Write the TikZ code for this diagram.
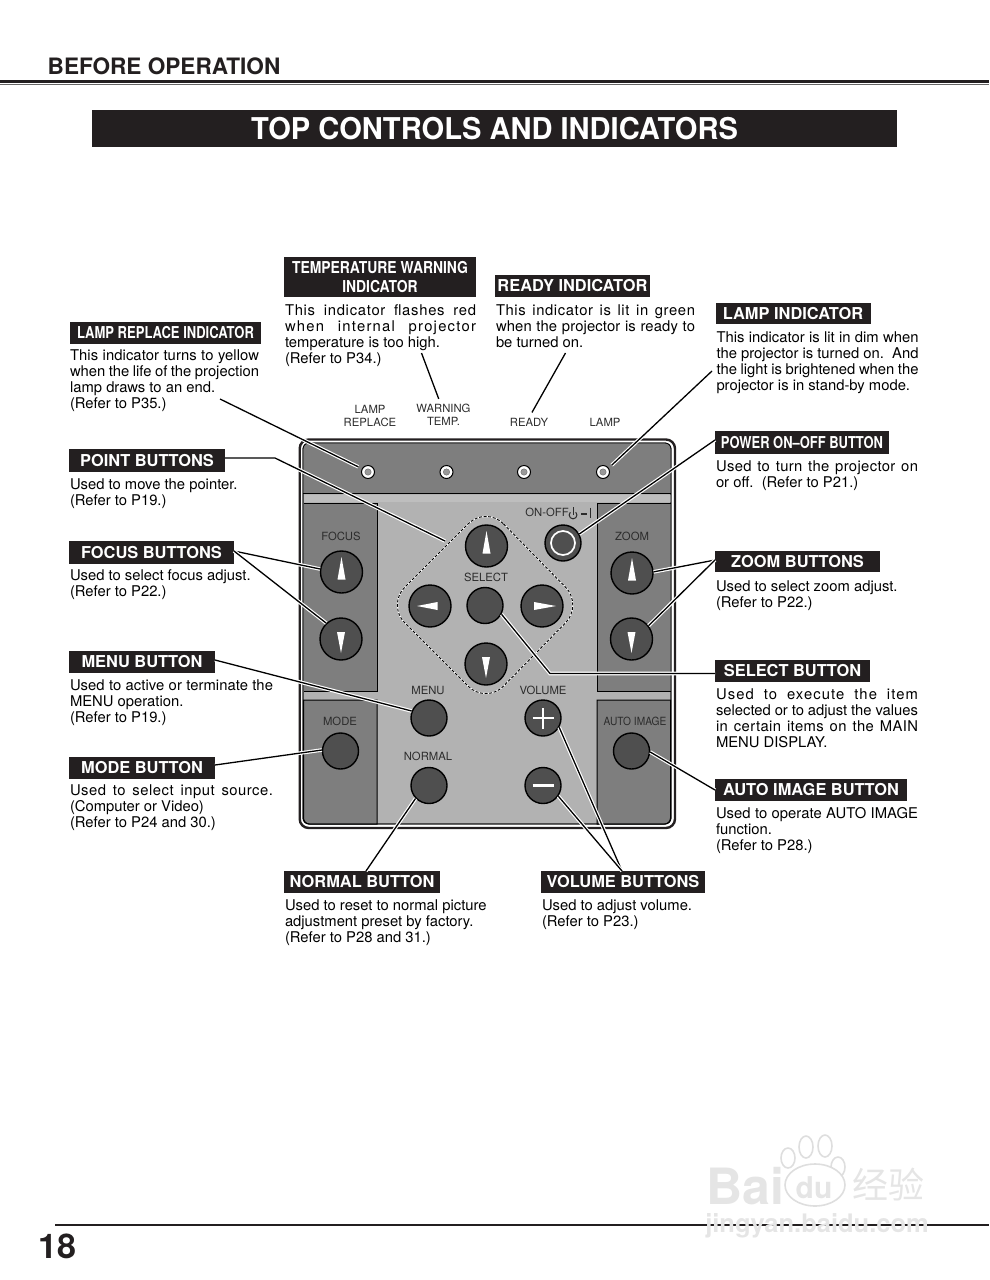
\documentclass[tikz,border=0pt]{standalone}
\usepackage{fontspec}
\setmainfont{TeX Gyre Heros}
\newfontfamily\cjkfont{Noto Sans CJK SC}
\usetikzlibrary{positioning}
\definecolor{inkblack}{HTML}{231F20}
\definecolor{bandgray}{HTML}{7E7E7E}
\definecolor{basegray}{HTML}{B2B2B2}
\definecolor{stripgray}{HTML}{BEBEBE}
\definecolor{knobgray}{HTML}{4F4F4F}
\definecolor{captgray}{HTML}{2C2C2C}
% one line of body text stretched to a width: width, text
\newlength{\naturalwd}
\newcommand{\wideline}[2]{\settowidth{\naturalwd}{#2}%
    \pgfmathsetmacro{\spreadval}{max(0,30*(#1/\naturalwd-1))}%
    \edef\spreadfont{\noexpand\addfontfeature{LetterSpace=\spreadval}}%
    \makebox[#1pt][s]{\spreadfont #2}}
\newcommand{\narrow}[2]{\scalebox{#1}[1]{#2}}

\begin{document}
\begin{tikzpicture}[
    x=1pt, y=-1pt,
    tagbox/.style={fill=inkblack, text=white, inner sep=0pt, align=center, minimum height=22pt,
        font=\fontsize{16.4}{19.5}\selectfont\bfseries},
    bodytext/.style={inner sep=0pt, align=left, anchor=north west, font=\fontsize{14.8}{16}\selectfont},
    caption/.style={inner sep=0pt, align=center, text=captgray, font=\fontsize{11.3}{13}\selectfont},
    bigknob/.style={circle, draw=black, line width=1.4pt, fill=knobgray, minimum size=42pt, inner sep=0pt},
    knob/.style={circle, draw=black, line width=1.4pt, fill=knobgray, minimum size=36pt, inner sep=0pt},
    led/.style={circle, draw=black, line width=1pt, fill=white, minimum size=13pt, inner sep=0pt},
    leader/.style={draw=black, line width=1.3pt, preaction={draw=white, line width=3.6pt}},
    wmark/.style={inner sep=0pt, text=black!10},
    paw/.style={draw=black!13, line width=1.6pt, fill=white}
]

\useasboundingbox (0,0) rectangle (989,1280);

% Header
\node[anchor=base west, inner sep=0pt, text=inkblack, font=\fontsize{22.6}{26}\selectfont\bfseries] (page_head) at (47.5,74) {BEFORE OPERATION};
\fill[inkblack] (0,79.5) rectangle (989,82.7);
\fill[black!60] (0,83.5) rectangle (989,85);
\node[fill=inkblack, text=white, minimum width=805pt, minimum height=37pt, inner sep=0pt, font=\fontsize{30}{34}\selectfont\bfseries] (page_title) at (494.5,128.5) {\narrow{.97}{TOP CONTROLS AND INDICATORS}};

% Panel frame
\draw[inkblack, line width=2.4pt, rounded corners=9pt] (299.7,439.5) rectangle (675,828);
\draw[black, line width=.8pt, fill=basegray, rounded corners=6pt] (303,443) rectangle (671,824);
\fill[bandgray] (303,493) [rounded corners=6pt] -- (303,443) -- (671,443) [sharp corners] -- (671,493) -- cycle;
\draw[black, line width=1pt] (303,493.5) -- (671,493.5);
\fill[stripgray] (303.5,495) rectangle (670.5,502);

% Side panels
\draw[black, line width=1pt, fill=bandgray] (303.5,503) -- (377,503) -- (377,691) -- (303.5,691);
\draw[black, line width=1pt, fill=bandgray] (670.5,503) -- (597,503) -- (597,691) -- (670.5,691);
\draw[black, line width=1pt, fill=bandgray] (377,824) -- (377,700) -- (303.5,700) [rounded corners=6pt] -- (303.5,824) [sharp corners] -- cycle;
\draw[black, line width=1pt, fill=bandgray] (597,824) -- (597,700) -- (670.5,700) [rounded corners=6pt] -- (670.5,824) [sharp corners] -- cycle;
\draw[black, line width=.8pt, rounded corners=6pt] (303,443) rectangle (671,824);

% Dashed field round the select buttons
\draw[white, line width=1.4pt, rounded corners=25pt] (486,506) -- (583,605) -- (486,704) -- (387,605) -- cycle;
\draw[black, line width=.9pt, dash pattern=on 3pt off 1.6pt, rounded corners=25pt] (486,506) -- (583,605) -- (486,704) -- (387,605) -- cycle;

% Lamps
\node[led] (led_replace) at (368,472) {};
\node[led] (led_temp) at (446.5,472) {};
\node[led] (led_ready) at (524,472) {};
\node[led] (led_lamp) at (603,472) {};
\foreach \lednode in {led_replace, led_temp, led_ready, led_lamp}
    \filldraw[fill=black!40, draw=black!60, line width=.4pt] (\lednode) circle (3.2pt);

% Buttons
\node[bigknob] (focus_up) at (341.5,572) {};
\node[bigknob] (focus_down) at (341,639) {};
\node[bigknob] (zoom_up) at (632,573) {};
\node[bigknob] (zoom_down) at (631.5,639) {};
\node[bigknob] (select_up) at (486.5,546) {};
\node[bigknob] (select_left) at (430,606) {};
\node[knob] (select_mid) at (485,605.5) {};
\node[bigknob] (select_right) at (542,606) {};
\node[bigknob] (select_down) at (486,664) {};
\node[knob] (power_knob) at (563,543) {};
\node[knob] (menu_knob) at (429,718) {};
\node[knob] (volume_plus) at (543,718) {};
\node[knob] (volume_minus) at (543,785.5) {};
\node[knob] (normal_knob) at (429,785.5) {};
\node[knob] (mode_knob) at (340.5,751) {};
\node[knob] (auto_knob) at (631.5,751) {};

% Button signs
\foreach \upknob in {focus_up, zoom_up, select_up}
    \fill[white] ([shift={(0,-15)}]\upknob.center) -- ([shift={(4,7.5)}]\upknob.center) -- ([shift={(-4,7.5)}]\upknob.center) -- cycle;
\foreach \downknob in {focus_down, zoom_down, select_down}
    \fill[white] ([shift={(0,14)}]\downknob.center) -- ([shift={(4,-7)}]\downknob.center) -- ([shift={(-4,-7)}]\downknob.center) -- cycle;
\fill[white] ([shift={(-13,0)}]select_left.center) -- ([shift={(7.5,4)}]select_left.center) -- ([shift={(7.5,-4)}]select_left.center) -- cycle;
\fill[white] ([shift={(14,0)}]select_right.center) -- ([shift={(-8,4)}]select_right.center) -- ([shift={(-8,-4)}]select_right.center) -- cycle;
\draw[white, line width=1.7pt] (power_knob) circle (12pt);
\draw[white, line width=2.2pt] ([xshift=-10.5pt]volume_plus.center) -- ([xshift=10.5pt]volume_plus.center);
\draw[white, line width=2.2pt] ([yshift=-10.5pt]volume_plus.center) -- ([yshift=10.5pt]volume_plus.center);
\draw[white, line width=2.2pt] ([xshift=-10.5pt]volume_minus.center) -- ([xshift=10.5pt]volume_minus.center);

% Panel captions
\node[caption] (cap_replace) at (370,415.5) {LAMP\\REPLACE};
\node[caption] (cap_temp) at (443.5,414.5) {WARNING\\TEMP.};
\node[caption] (cap_ready) at (529,422) {READY};
\node[caption] (cap_lamp) at (605,422) {LAMP};
\node[caption] (cap_onoff) at (547,512) {ON-OFF};
\node[caption] (cap_focus) at (341,536) {FOCUS};
\node[caption] (cap_zoom) at (632,536) {ZOOM};
\node[caption] (cap_select) at (486,577) {SELECT};
\node[caption] (cap_menu) at (428,690) {MENU};
\node[caption] (cap_volume) at (543,690) {VOLUME};
\node[caption] (cap_mode) at (340,721) {MODE};
\node[caption] (cap_normal) at (428,756) {NORMAL};
\node[caption] (cap_auto) at (635,721) {\narrow{.9}{AUTO IMAGE}};

% Power sign beside ON-OFF
\draw[captgray, line width=1pt] (575.8,512.2) arc[start angle=45, end angle=-225, radius=3.9pt];
\draw[captgray, line width=1pt] (573,507) -- (573,515);
\draw[captgray, line width=1.2pt] (581,514) -- (587,514);
\draw[captgray, line width=1.2pt] (590.5,507.5) -- (590.5,518);

% Title tags
\node[tagbox, minimum width=192pt, minimum height=40pt] (temp_tag) at (380,277) {\narrow{.848}{TEMPERATURE WARNING}\\\narrow{.848}{INDICATOR}};
\node[tagbox, minimum width=155pt] (ready_tag) at (572.5,286) {READY INDICATOR};
\node[tagbox, minimum width=155pt, minimum height=21pt] (lamp_tag) at (793,313.5) {LAMP INDICATOR};
\node[tagbox, minimum width=191pt] (replace_tag) at (165.5,333) {\narrow{.794}{LAMP REPLACE INDICATOR}};
\node[tagbox, minimum width=156pt, minimum height=23pt] (point_tag) at (147,460.5) {POINT BUTTONS};
\node[tagbox, minimum width=165pt, minimum height=23pt] (focus_tag) at (151.5,552.5) {FOCUS BUTTONS};
\node[tagbox, minimum width=146pt] (menu_tag) at (142,662) {MENU BUTTON};
\node[tagbox, minimum width=146pt] (mode_tag) at (142,768) {MODE BUTTON};
\node[tagbox, minimum width=174pt, minimum height=23pt] (power_tag) at (802,442.5) {\narrow{.79}{POWER ON--OFF BUTTON}};
\node[tagbox, minimum width=165pt, minimum height=21pt] (zoom_tag) at (797.5,561.5) {ZOOM BUTTONS};
\node[tagbox, minimum width=155pt] (select_tag) at (792.5,671) {SELECT BUTTON};
\node[tagbox, minimum width=192pt] (auto_tag) at (811,790) {AUTO IMAGE BUTTON};
\node[tagbox, minimum width=156pt] (normal_tag) at (362,882) {NORMAL BUTTON};
\node[tagbox, minimum width=164pt] (volume_tag) at (623,882) {VOLUME BUTTONS};

% Descriptions
\node[bodytext, below=7.5pt of temp_tag.south west, anchor=north west, xshift=1pt] (temp_text) {\wideline{191}{This indicator flashes red}\\\wideline{191}{when internal projector}\\temperature is too high.\\(Refer to P34.)};
\node[bodytext, below=7.5pt of ready_tag.south west, anchor=north west, xshift=1pt] (ready_text) {\wideline{199}{This indicator is lit in green}\\\wideline{199}{when the projector is ready to}\\be turned on.};
\node[bodytext, below=7.5pt of lamp_tag.south west, anchor=north west, xshift=1pt] (lamp_text) {\wideline{202}{This indicator is lit in dim when}\\\wideline{202}{the projector is turned on.~~And}\\\wideline{202}{the light is brightened when the}\\projector is in stand-by mode.};
\node[bodytext, below=5pt of replace_tag.south west, anchor=north west] (replace_text) {\wideline{189}{This indicator turns to yellow}\\\wideline{189}{when the life of the projection}\\lamp draws to an end.\\(Refer to P35.)};
\node[bodytext, below=6pt of point_tag.south west, anchor=north west, xshift=1pt] (point_text) {Used to move the pointer.\\(Refer to P19.)};
\node[bodytext, below=5pt of focus_tag.south west, anchor=north west, xshift=1pt] (focus_text) {Used to select focus adjust.\\(Refer to P22.)};
\node[bodytext, below=6pt of menu_tag.south west, anchor=north west, xshift=1pt] (menu_text) {\wideline{203}{Used to active or terminate the}\\MENU operation.\\(Refer to P19.)};
\node[bodytext, below=5pt of mode_tag.south west, anchor=north west, xshift=1pt] (mode_text) {\wideline{203}{Used to select input source.}\\(Computer or Video)\\(Refer to P24 and 30.)};
\node[bodytext, below=6pt of power_tag.south west, anchor=north west, xshift=1pt] (power_text) {\wideline{202}{Used to turn the projector on}\\or off.~~(Refer to P21.)};
\node[bodytext, below=8pt of zoom_tag.south west, anchor=north west, xshift=1pt] (zoom_text) {Used to select zoom adjust.\\(Refer to P22.)};
\node[bodytext, below=6pt of select_tag.south west, anchor=north west, xshift=1pt] (select_text) {\wideline{202}{Used to execute the item}\\\wideline{202}{selected or to adjust the values}\\\wideline{202}{in certain items on the MAIN}\\MENU DISPLAY.};
\node[bodytext, below=6.5pt of auto_tag.south west, anchor=north west, xshift=1pt] (auto_text) {\wideline{202}{Used to operate AUTO IMAGE}\\function.\\(Refer to P28.)};
\node[bodytext, below=6pt of normal_tag.south west, anchor=north west, xshift=1pt] (normal_text) {Used to reset to normal picture\\adjustment preset by factory.\\(Refer to P28 and 31.)};
\node[bodytext, below=6pt of volume_tag.south west, anchor=north west, xshift=1pt] (volume_text) {Used to adjust volume.\\(Refer to P23.)};

% Free ends of the leaders
\coordinate (replace_start) at (220,399);
\coordinate (temp_start) at (421.5,353);
\coordinate (ready_start) at (565.5,353);
\coordinate (lamp_start) at (712,371);
\coordinate (point_bend) at (275,458);
\coordinate (point_end) at (445,541);
\coordinate (focus_start) at (234,551);
\coordinate (menu_start) at (215,660);
\coordinate (mode_start) at (215,765);
\coordinate (power_start) at (715,440);
\coordinate (zoom_start) at (715,560);
\coordinate (select_start) at (715,673.5);
\coordinate (select_bend) at (550,673.5);
\coordinate (auto_start) at (715,790);
\coordinate (normal_start) at (366,871);
\coordinate (volume_start) at (622,871);

% Leaders
\draw[leader, shorten >=4pt] (replace_start) -- (led_replace.151);
\draw[leader, shorten >=5pt] (temp_start) -- ([xshift=-3pt]cap_temp.north);
\draw[leader, shorten >=6pt] (ready_start) -- (cap_ready.north);
\draw[leader, shorten >=4pt] (lamp_start) -- (led_lamp.35);
\draw[leader] (point_tag.east |- point_bend) -- (point_bend) -- (point_end);
\draw[leader] (focus_start) -- (focus_up.172);
\draw[leader] (focus_start) -- (focus_down.133);
\draw[leader] (menu_start) -- (menu_knob.158);
\draw[leader] (mode_start) -- (mode_knob.177);
\draw[leader] (power_start) -- (power_knob.29);
\draw[leader] (zoom_start) -- (zoom_up.3);
\draw[leader] (zoom_start) -- (zoom_down.38);
\draw[leader] (select_start) -- (select_bend) -- (select_mid.-28);
\draw[leader] (auto_start) -- (auto_knob.-3);
\draw[leader] (normal_start) -- (normal_knob.-136);
\draw[leader] (volume_start) -- (volume_plus.-30);
\draw[leader] (volume_start) -- (volume_minus.-35);

% Page number
\draw[inkblack, line width=1.5pt] (55,1225) -- (989,1225);
\node[anchor=base west, inner sep=0pt, text=inkblack, font=\fontsize{34}{38}\selectfont\bfseries] (page_number) at (38.5,1258) {18};

% Watermark
\filldraw[paw] (788,1158) ellipse (7pt and 10pt) (806,1147) ellipse (7pt and 11pt) (825,1146) ellipse (7pt and 11pt) (838,1167) ellipse (7pt and 10pt);
\filldraw[paw] (815,1185) ellipse (30pt and 21pt);
\node[wmark, font=\fontsize{50}{52}\selectfont\bfseries] (mark_bai) at (745,1186) {Bai};
\node[wmark, font=\fontsize{30}{32}\selectfont\bfseries] (mark_du) at (814,1188) {du};
\node[wmark, font=\fontsize{36}{38}\selectfont\cjkfont] (mark_cjk) at (888,1185) {经验};
\node[wmark, font=\fontsize{25.5}{29}\selectfont\bfseries] (mark_url) at (817,1226) {jingyan.baidu.com};

\end{tikzpicture}
\end{document}
